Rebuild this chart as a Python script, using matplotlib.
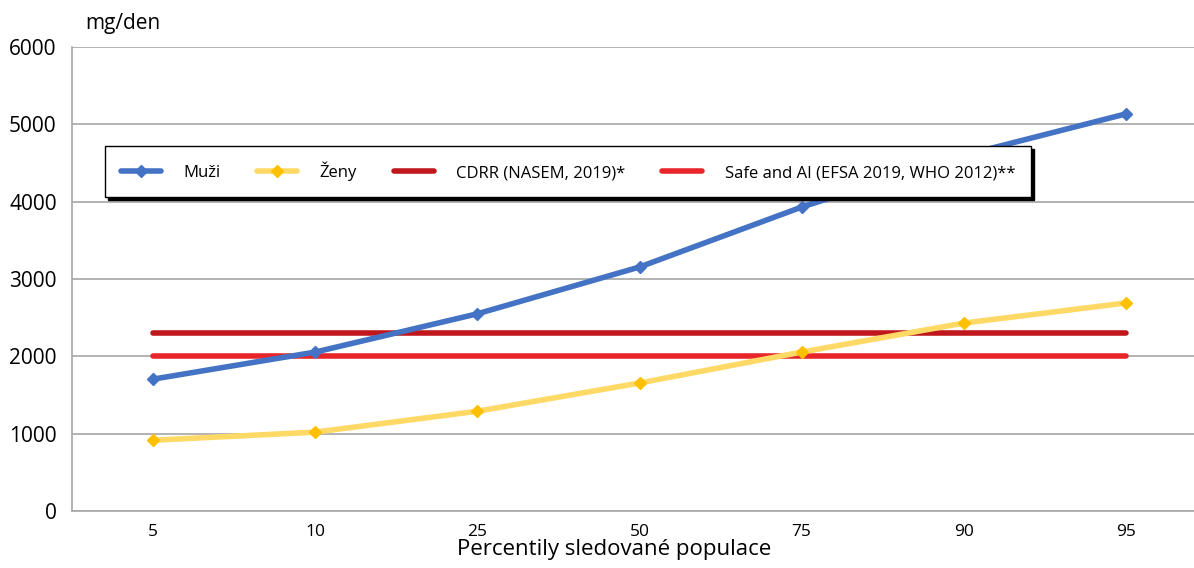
import matplotlib
matplotlib.use("Agg")
import matplotlib.pyplot as plt

plt.rcParams['font.family'] = ['Open Sans', 'DejaVu Sans']

categories = ["5", "10", "25", "50", "75", "90", "95"]
muzi = [1705, 2055, 2550, 3155, 3930, 4600, 5135]
zeny = [915, 1020, 1290, 1655, 2055, 2430, 2690]
cdrr = [2300] * 7
safe_ai = [2000] * 7
yticks = [0, 1000, 2000, 3000, 4000, 5000, 6000]

W, H = 1194, 568
fig = plt.figure(figsize=(W / 100, H / 100), dpi=100)
ax = fig.add_axes([72 / W, 1 - 511 / H, 1135 / W, 464 / H])

x = list(range(len(categories)))
ax.plot(x, muzi, color='#4472C4', lw=4, marker='D', ms=6.5, mfc='#4472C4', mec='#4472C4',
        label='Muži', solid_capstyle='round', zorder=4)
ax.plot(x, zeny, color='#FFD966', lw=4, marker='D', ms=6.5, mfc='#FFC000', mec='#FFC000',
        label='Ženy', solid_capstyle='round', zorder=4)
ax.plot(x, cdrr, color='#C0171C', lw=4, solid_capstyle='round',
        label='CDRR (NASEM, 2019)*', zorder=3)
ax.plot(x, safe_ai, color='#E8262A', lw=4, solid_capstyle='round',
        label='Safe and AI (EFSA 2019, WHO 2012)**', zorder=3)

ax.set_xlim(-0.5, len(categories) - 0.5)
ax.set_ylim(0, 6000)
ax.set_yticks(yticks)
ax.set_xticks(x)
ax.set_xticklabels(categories)
ax.tick_params(axis='both', length=0, colors='black')
ax.tick_params(axis='x', pad=9, labelsize=12.5)
ax.tick_params(axis='y', pad=11, labelsize=15)
ax.grid(axis='y', color='#a6a6a6', lw=1.2)
ax.set_axisbelow(True)
for s in ['top', 'right']:
    ax.spines[s].set_visible(False)
for s in ['left', 'bottom']:
    ax.spines[s].set_color('#a6a6a6')
    ax.spines[s].set_linewidth(1.2)

fig.text(614 / W, 1 - 550 / H, 'Percentily sledované populace', fontsize=16,
         ha='center', va='center')
fig.text(85 / W, 1 - 24 / H, 'mg/den', fontsize=15, va='center', ha='left')

leg = ax.legend(loc='upper left', bbox_to_anchor=(33 / 1135, (511 - 146) / 464),
                ncol=4, frameon=True, fancybox=False,
                shadow={'color': 'black', 'alpha': 1}, fontsize=12, handlelength=2.4,
                borderaxespad=0, borderpad=0.95, handletextpad=1.35, columnspacing=2.2)
leg.get_frame().set_edgecolor('black')
leg.get_frame().set_linewidth(1.0)

fig.savefig('out.png', dpi=100)
